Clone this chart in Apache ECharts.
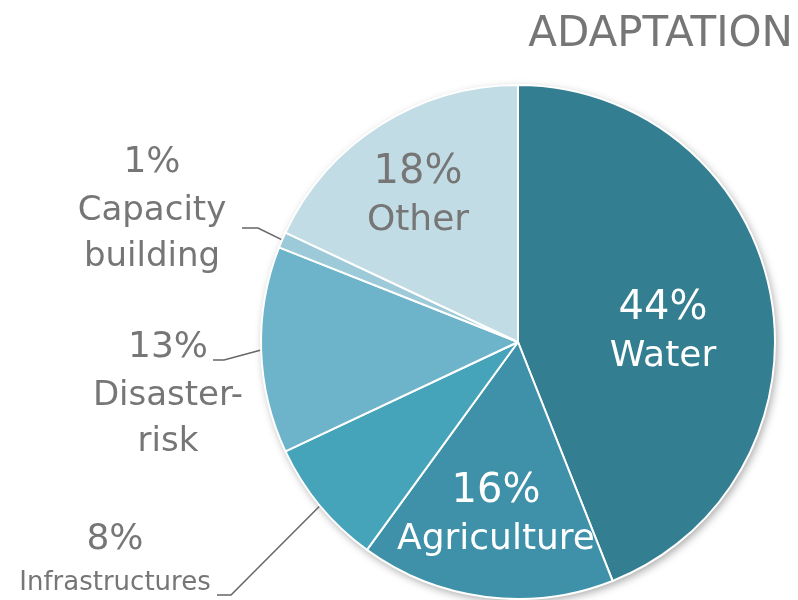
<!DOCTYPE html>
<html>
<head>
<meta charset="utf-8">
<script src="https://cdn.jsdelivr.net/npm/echarts@6/dist/echarts.min.js"></script>
<style>
  html, body { margin: 0; padding: 0; background: #fff; }
  #chart { width: 798px; height: 600px; }
</style>
</head>
<body>
<div id="chart"></div>
<script>
// ---- data ----
const titleText = 'ADAPTATION';
const categories = ['Water', 'Agriculture', 'Infrastructures', 'Disaster-\nrisk', 'Capacity\nbuilding', 'Other'];
const shares = [44, 16, 8, 13, 1, 18];

// ---- styling / layout ----
const sliceColors = ['#347E92', '#3E91A8', '#45A3BA', '#6DB4CA', '#9DCAD8', '#C2DCE5'];
const textGray = '#767676';
const FONT = 'DejaVu Sans';
const CENTER = [518, 342];
const RADIUS = 257;

// label anchor (center of text block); outside labels get a leader line
const labelSpots = [
  { x: 663, y: 332, color: '#ffffff', inside: true },
  { x: 496, y: 515, color: '#ffffff', inside: true },
  { x: 115, y: 558, color: textGray, small: true, line: [[217, 595], [231, 595]] },
  { x: 168, y: 394, color: textGray, line: [[213, 360], [224, 360]] },
  { x: 152, y: 209, color: textGray, line: [[242, 228], [258, 228]] },
  { x: 418, y: 196, color: textGray, inside: true }
];

const chart = echarts.init(document.getElementById('chart'), null, { renderer: 'canvas' });

const data = categories.map((name, i) => {
  const s = labelSpots[i];
  const pSize = s.inside ? 40 : 36;
  const nSize = s.inside ? 36 : 34;
  return {
    name: name,
    value: shares[i],
    itemStyle: { color: sliceColors[i] },
    label: {
      show: true,
      position: s.inside ? 'inside' : 'outside',
      formatter: s.small ? '{p|{c}%}\n{s|{b}}' : '{p|{c}%}\n{n|{b}}',
      align: 'center',
      rich: {
        p: { fontFamily: FONT, fontSize: pSize, lineHeight: 50, color: s.color, align: 'center' },
        n: { fontFamily: FONT, fontSize: nSize, lineHeight: 46, color: s.color, align: 'center' },
        s: { fontFamily: FONT, fontSize: 26, lineHeight: 36, color: s.color, align: 'center' }
      }
    },
    labelLine: { show: !s.inside, lineStyle: { color: '#666666', width: 1.5 } }
  };
});

const option = {
  animation: false,
  backgroundColor: '#ffffff',
  title: {
    text: titleText,
    right: 5,
    top: 14,
    padding: 0,
    textStyle: { fontFamily: FONT, fontSize: 42, fontWeight: 'normal', color: textGray }
  },
  series: [
    {
      type: 'pie',
      silent: true,
      z: 1,
      center: CENTER,
      radius: RADIUS,
      label: { show: false },
      labelLine: { show: false },
      itemStyle: {
        color: '#ffffff',
        shadowBlur: 8,
        shadowColor: 'rgba(0,0,0,0.35)',
        shadowOffsetX: 2,
        shadowOffsetY: 3
      },
      data: [{ value: 1, name: '' }]
    },
    {
      type: 'pie',
      z: 2,
      center: CENTER,
      radius: RADIUS,
      startAngle: 90,
      clockwise: true,
      avoidLabelOverlap: false,
      itemStyle: { borderColor: '#ffffff', borderWidth: 2 },
      labelLayout: function (p) {
        const s = labelSpots[p.dataIndex];
        const out = { x: s.x, y: s.y, align: 'center', verticalAlign: 'middle' };
        if (s.line && p.labelLinePoints && p.labelLinePoints[0]) {
          const edge = p.labelLinePoints[0];
          out.labelLinePoints = [[edge[0], edge[1]], s.line[1], s.line[0]];
        }
        return out;
      },
      data: data
    }
  ]
};

chart.setOption(option);
</script>
</body>
</html>
